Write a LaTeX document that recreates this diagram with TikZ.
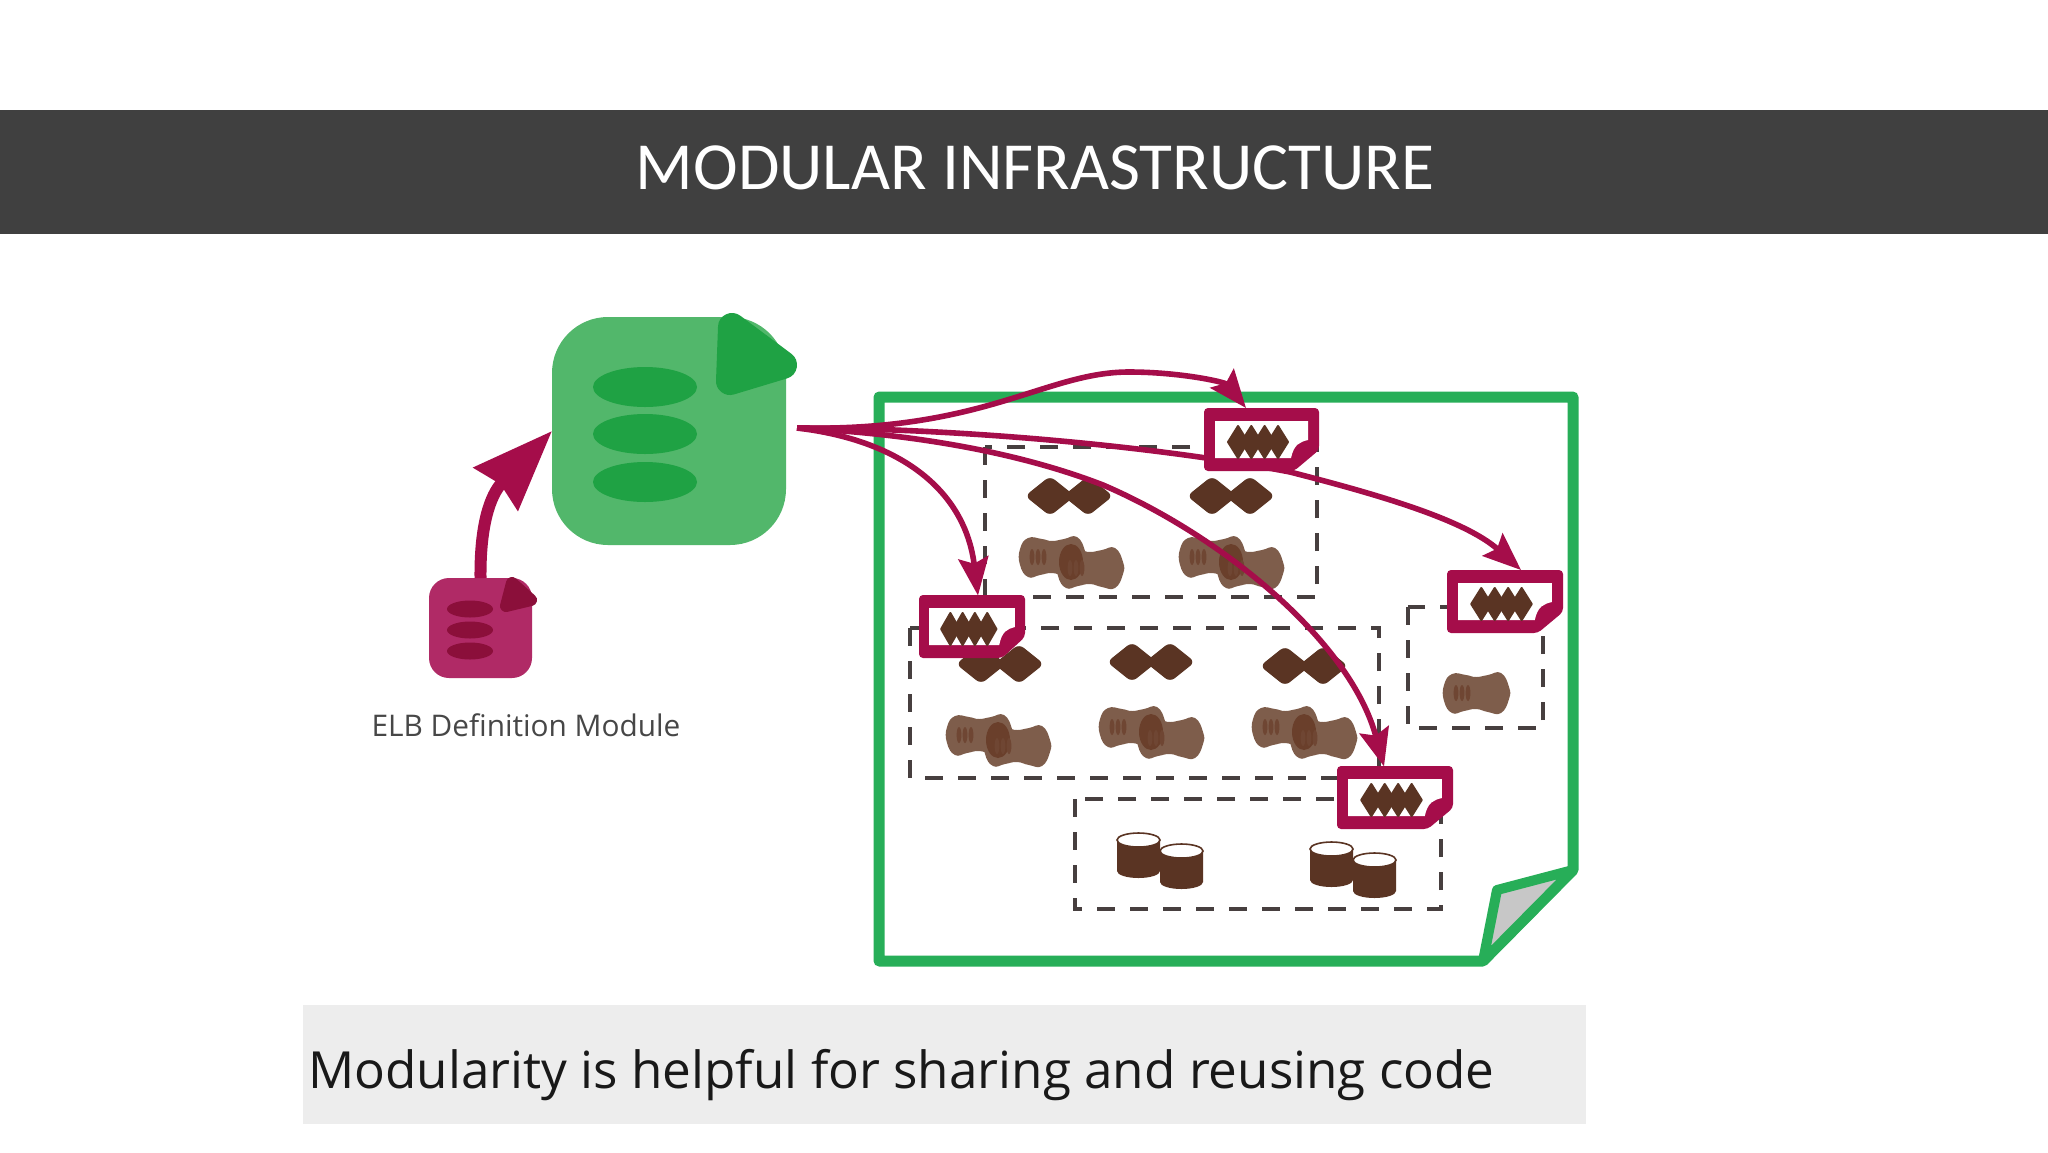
\documentclass[tikz,border=0pt]{standalone}
\usepackage{fontspec}
\usetikzlibrary{arrows.meta}
\newfontfamily\titlefont{Carlito}
\newfontfamily\bodyfont{Open Sans}
\definecolor{crim}{HTML}{A50D4A}
\definecolor{modgreen}{HTML}{52B76B}
\definecolor{eargreen}{HTML}{1FA244}
\definecolor{pagegreen}{HTML}{27AE58}
\definecolor{smallmod}{HTML}{B02A66}
\definecolor{smalldark}{HTML}{8B0F3A}
\definecolor{darkbrown}{HTML}{5A3423}
\definecolor{tan}{HTML}{7E5D4B}
\definecolor{tandark}{HTML}{6A3F2B}
\definecolor{dashc}{HTML}{473F3F}
\tikzset{
  groupbox/.style={draw=dashc,line width=2.1pt,dash pattern=on 9pt off 7.5pt},
  flow/.style={draw=crim,line width=2.8pt,-{Stealth[length=19pt,width=15pt,inset=3pt]}},
  iconbox/.style={minimum height=31.5pt,inner sep=0pt,outer sep=0pt},
}
\newcommand{\docicon}[4]{%
  \node[iconbox,minimum width=#4*0.5pt] (#1) at ({#2+#4/2},{#3+31.5}) {};
  \begin{scope}[shift={(#2,#3)},xscale=#4/115]
    \fill[crim,rounded corners=2pt] (0,0) -- (115,0) -- (115,42) -- (90,63) -- (0,63) -- cycle;
    \fill[white] (11,13) -- (104,13) -- (104,32) .. controls (96,34) and (90,36) .. (87,50) -- (11,50) -- cycle;
    \foreach \c in {34,47.3,60.6,74}
      \draw[darkbrown,fill=darkbrown,line width=1pt,line join=round] (\c-10,34) -- (\c,18) -- (\c+10,34) -- (\c,50) -- cycle;
  \end{scope}}
\newcommand{\diapair}[2]{%
  \begin{scope}[shift={(#1,#2)}]
    \foreach \c in {-19,19}
      \fill[darkbrown,rounded corners=3pt] (\c-25,0) -- (\c,-20) -- (\c+25,0) -- (\c,20) -- cycle;
  \end{scope}}
\newcommand{\tanbow}[2]{%
  \fill[tan,shift={(#1,#2)}] plot[smooth cycle,tension=0.8] coordinates
    {(-32,-8) (-24,-19) (-10,-18) (0,-16) (12,-18) (25,-20) (33,-6) (33,6) (25,20) (12,19) (0,16) (-12,18) (-24,20) (-32,8)};}
\newcommand{\tanticks}[2]{%
  \begin{scope}[shift={(#1,#2)}]
    \foreach \c in {-20,-14,-8}
      \fill[tandark!75!tan] (\c,0) ellipse (2.4 and 8);
  \end{scope}}
\newcommand{\tandouble}[2]{%
  \begin{scope}[shift={(#1,#2)}]
    \tanbow{32}{20}
    \tanbow{70}{31}
    \tanticks{32}{20}
    \fill[tandark] (51,25) ellipse (12 and 18);
    \tanticks{70}{31}
  \end{scope}}
\newcommand{\cyl}[2]{%
  \begin{scope}[shift={(#1,#2)}]
    \fill[darkbrown] (0,7) -- (0,38) arc[start angle=180,end angle=0,x radius=21.5,y radius=7] -- (43,7) -- cycle;
    \fill[white,draw=darkbrown,line width=0.8pt] (21.5,7) ellipse (21.5 and 7);
  \end{scope}}
\begin{document}
\begin{tikzpicture}[x=0.5pt,y=-0.5pt]
\path[use as bounding box,fill=white] (0,0) rectangle (2048,1152);
% title bar
\fill[fill=black!75] (0,110) rectangle (2048,234);
\node[text=white,font=\titlefont\fontsize{33.7}{36}\selectfont,inner sep=0pt] (title) at (1035,168) {MODULAR INFRASTRUCTURE};
% caption
\fill[fill=black!7] (303,1005) rectangle (1586,1124);
\node[anchor=west,text=black!90,font=\bodyfont\fontsize{25.6}{28}\selectfont,inner sep=0pt] (caption) at (308,1075) {Modularity is helpful for sharing and reusing code};
% modules
\node[fill=modgreen,rounded corners=28pt,minimum width=117pt,minimum height=114pt,inner sep=0pt,outer sep=0pt] (mod) at (669,431) {};
\draw[eargreen,fill=eargreen,line width=14pt,line join=round] (732,327) -- (783,365) -- (730,381) -- cycle;
\foreach \yy in {387,434,482} \fill[eargreen] (645,\yy) ellipse (52 and 20);
\node[fill=smallmod,rounded corners=10pt,minimum width=51.5pt,minimum height=50pt,inner sep=0pt,outer sep=0pt] (small) at (480.5,628) {};
\draw[smalldark,fill=smalldark,line width=6pt,line join=round] (512,583) -- (531,600) -- (506,606) -- cycle;
\foreach \yy in {609,630,651} \fill[smalldark] (470,\yy) ellipse (23 and 8.5);
\node[text=black!72,font=\bodyfont\fontsize{14.9}{17}\selectfont,inner sep=0pt] (elb) at (526,725) {ELB Definition Module};
\draw[crim,line width=6pt,-{Stealth[length=40pt,width=30pt,inset=3pt]}] (small.north) .. controls (480,525) and (490,495) .. (mod.west);
% page
\draw[pagegreen,line width=5.5pt,line join=round] (879,397) -- (1573,397) -- (1573,870) -- (1483,961) -- (879,961) -- cycle;
\draw[pagegreen,fill=black!22,line width=5pt,line join=round] (1573,870) -- (1497,890) -- (1483,961) -- cycle;
% dashed groups
\draw[groupbox] (985,447) rectangle (1317,597);
\draw[groupbox] (910,628) rectangle (1379,778);
\draw[groupbox] (1408,607) rectangle (1543,728);
\draw[groupbox] (1075,799) rectangle (1441,909);
% contents
\diapair{1069}{496}\diapair{1231}{496}
\diapair{1000}{664}\diapair{1151}{662}\diapair{1304}{666}
\tandouble{1020}{537}\tandouble{1180}{537}
\tandouble{947}{715}\tandouble{1100}{707}\tandouble{1253}{707}
\tanbow{1476}{693}\tanticks{1476}{693}
\cyl{1117}{833}\cyl{1160}{844}\cyl{1310}{842}\cyl{1353}{853}
% icon anchors
\node[iconbox,minimum width=57.5pt] (icona) at (1262,439.5) {};
\node[iconbox,minimum width=53pt] (iconb) at (972,627) {};
\node[iconbox,minimum width=58.5pt] (iconc) at (1505,601.5) {};
\node[iconbox,minimum width=58.5pt] (icond) at (1395,798) {};
\coordinate (src) at (797,428);
% connectors
\draw[flow] (src) .. controls (985,432) and (1045,372) .. (1129,372) .. controls (1180,372) and (1225,382) .. ([xshift=-8pt]icona.north);
\draw[flow] (src) .. controls (950,428) and (1150,445) .. (1290,472) .. controls (1380,495) and (1465,520) .. ([xshift=8pt]iconc.north);
\draw[flow] (src) .. controls (900,440) and (965,490) .. ([xshift=3pt]iconb.north);
\draw[flow] (src) .. controls (880,432) and (1000,445) .. (1103,485) .. controls (1220,535) and (1350,640) .. ([xshift=-5.5pt]icond.north);
% icons on top
\docicon{ia}{1204}{408}{115}
\docicon{ib}{919}{595}{106}
\docicon{ic}{1447}{570}{116}
\docicon{id}{1337}{766}{116}
\end{tikzpicture}
\end{document}
